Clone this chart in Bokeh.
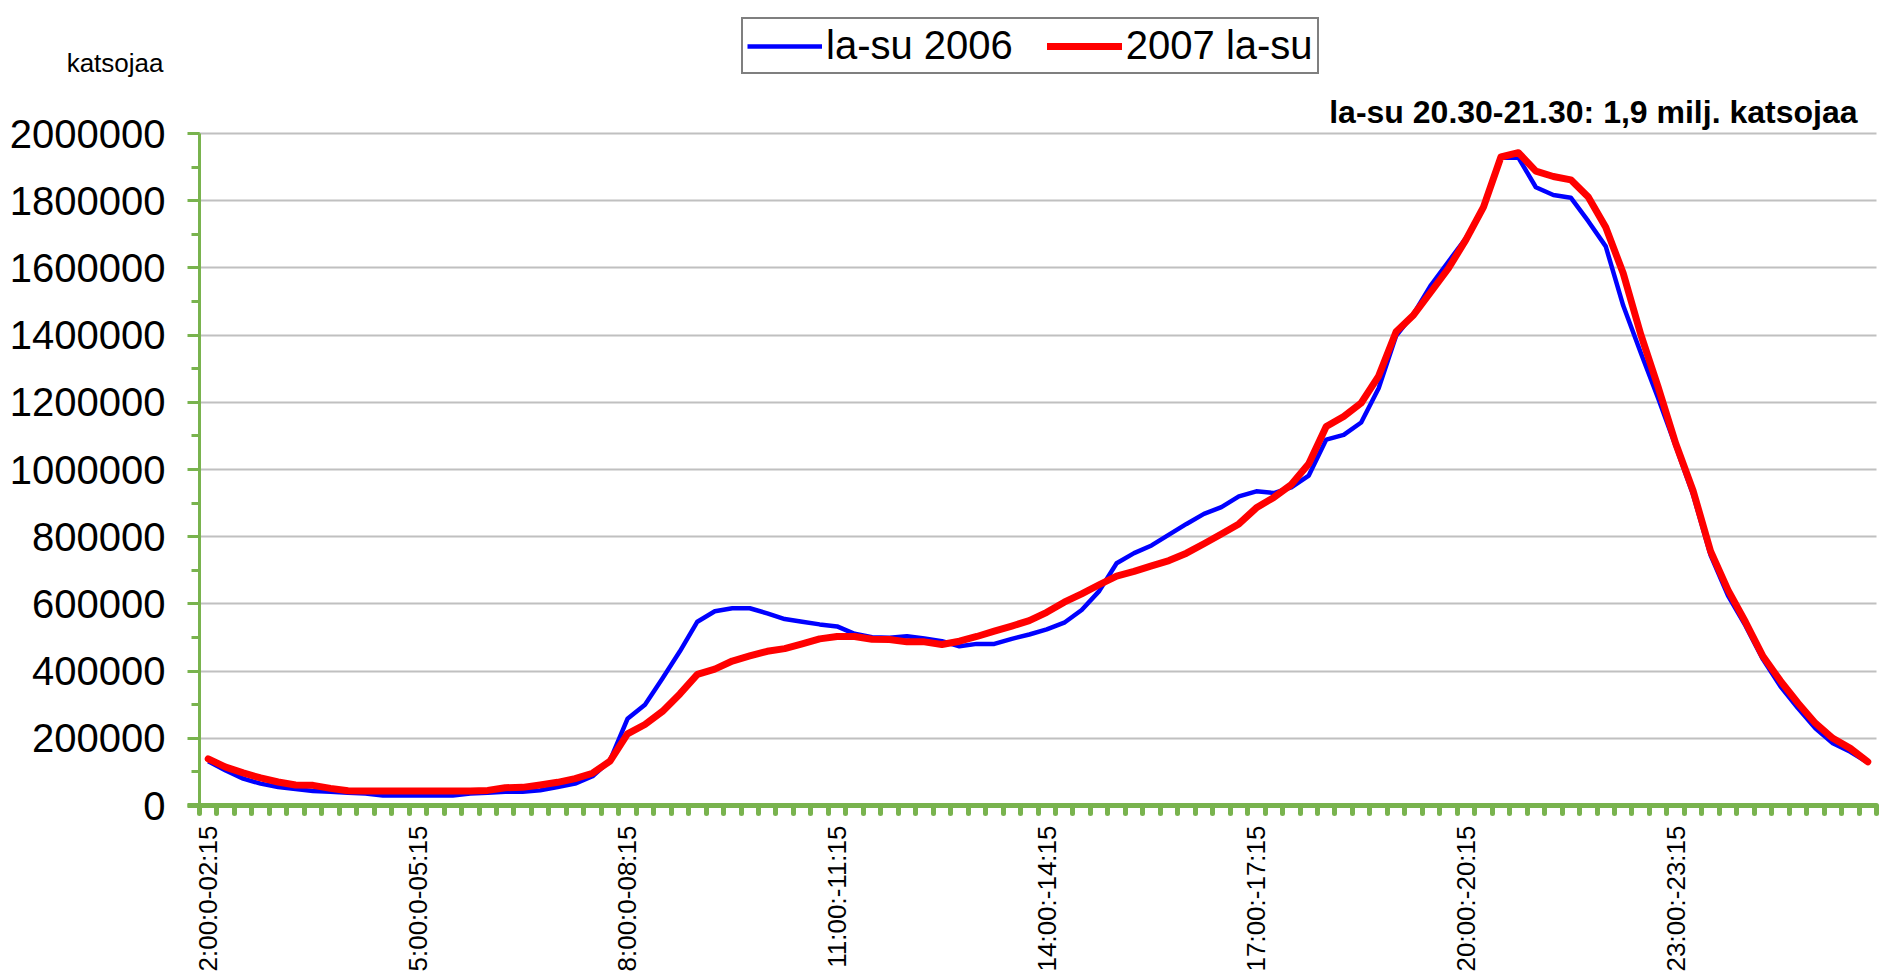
import math
from bokeh.plotting import figure
from bokeh.models import (Range1d, FixedTicker, LinearAxis, Legend, LegendItem, Label,
                          ColumnDataSource, NumeralTickFormatter, Grid)
from bokeh.embed import file_html
from bokeh.resources import INLINE

# ---- data (viewers per 15-minute slot, 02:00 -> 01:45 next day) ----
slot_index = list(range(96))

tick_slots = [0, 12, 24, 36, 48, 60, 72, 84]
tick_labels = ["2:00:0-02:15", "5:00:0-05:15", "8:00:0-08:15", "11:00:-11:15",
               "14:00:-14:15", "17:00:-17:15", "20:00:-20:15", "23:00:-23:15"]

series_2006 = [132000, 104000, 80000, 65000, 55000, 49000, 43000, 41000, 38000, 36000,
               30000, 30000, 30000, 30000, 30000, 36000, 38000, 41000, 41000, 45000,
               55000, 65000, 87000, 134000, 258000, 300000, 378000, 459000, 547000, 578000,
               587000, 587000, 572000, 555000, 547000, 539000, 533000, 511000, 501000, 499000,
               504000, 497000, 489000, 474000, 481000, 481000, 496000, 509000, 524000, 544000,
               582000, 638000, 721000, 751000, 774000, 806000, 838000, 868000, 888000, 920000,
               935000, 930000, 947000, 982000, 1089000, 1103000, 1140000, 1242000, 1398000, 1463000,
               1549000, 1619000, 1689000, 1777000, 1928000, 1928000, 1840000, 1817000, 1809000, 1739000,
               1664000, 1488000, 1348000, 1212000, 1070000, 925000, 745000, 625000, 535000, 435000,
               355000, 290000, 230000, 185000, 160000, 128000]

series_2007 = [139000, 114000, 97000, 82000, 70000, 61000, 60000, 51000, 44000, 43000,
               43000, 43000, 43000, 43000, 43000, 43000, 45000, 53000, 54000, 61000,
               69000, 80000, 96000, 132000, 213000, 241000, 280000, 332000, 390000, 406000,
               430000, 445000, 459000, 467000, 481000, 496000, 503000, 503000, 495000, 494000,
               487000, 487000, 479000, 489000, 503000, 519000, 534000, 550000, 575000, 605000,
               630000, 657000, 683000, 697000, 713000, 729000, 751000, 779000, 808000, 838000,
               886000, 917000, 955000, 1017000, 1128000, 1158000, 1198000, 1278000, 1410000, 1460000,
               1529000, 1599000, 1684000, 1781000, 1930000, 1943000, 1888000, 1872000, 1862000, 1811000,
               1721000, 1584000, 1403000, 1245000, 1078000, 937000, 757000, 641000, 546000, 444000,
               371000, 305000, 245000, 200000, 170000, 130000]

y_max = 2000000
y_ticks = list(range(0, y_max + 1, 200000))
y_minor = list(range(0, y_max + 1, 100000))

# ---- layout (pixels); the frame fills the whole canvas, axes sit at fixed locations ----
W, H = 1883, 975
PLOT_LEFT, PLOT_RIGHT = 199, 1876
PLOT_TOP, PLOT_BOTTOM = 133, 805
px_per_slot = (PLOT_RIGHT - PLOT_LEFT) / len(slot_index)
x0 = -0.5 - PLOT_LEFT / px_per_slot
x1 = x0 + W / px_per_slot
units_per_px = y_max / (PLOT_BOTTOM - PLOT_TOP)
y0 = -(H - PLOT_BOTTOM) * units_per_px
y1 = PLOT_BOTTOM * units_per_px

GREEN = "#79b34e"
FONT = "Liberation Sans"

src = ColumnDataSource(dict(x=slot_index, a=series_2006, b=series_2007))

p = figure(width=W, height=H, output_backend="svg", toolbar_location=None,
           x_range=Range1d(x0, x1), y_range=Range1d(y0, y1),
           x_axis_type=None, y_axis_type=None,
           min_border_left=0, min_border_right=0, min_border_top=0, min_border_bottom=0)
p.outline_line_color = None
p.background_fill_color = "white"
p.border_fill_color = "white"

ytick = FixedTicker(ticks=y_ticks, minor_ticks=y_minor)
p.add_layout(Grid(dimension=1, ticker=ytick, cross_bounds=(-0.5, 95.5),
                  grid_line_color="#c0c0c0", grid_line_width=2))

yaxis = LinearAxis(ticker=ytick, formatter=NumeralTickFormatter(format="0"),
                   fixed_location=-0.5, bounds=(0, y_max))
yaxis.axis_line_color = GREEN
yaxis.axis_line_width = 3
yaxis.major_tick_line_color = GREEN
yaxis.major_tick_line_width = 3
yaxis.major_tick_out = 12
yaxis.major_tick_in = 0
yaxis.minor_tick_line_color = GREEN
yaxis.minor_tick_line_width = 3
yaxis.minor_tick_out = 8
yaxis.minor_tick_in = 0
yaxis.major_label_standoff = 22
yaxis.major_label_text_font = FONT
yaxis.major_label_text_font_size = "40px"
yaxis.major_label_text_color = "black"
p.add_layout(yaxis, "left")

xtick = FixedTicker(ticks=tick_slots, minor_ticks=[i - 0.5 for i in range(97)])
xaxis = LinearAxis(ticker=xtick, bounds=(-1.2, 95.5), fixed_location=0,
                   major_label_overrides={t: l for t, l in zip(tick_slots, tick_labels)})
xaxis.axis_line_color = GREEN
xaxis.axis_line_width = 5
xaxis.major_tick_line_color = None
xaxis.major_tick_out = 0
xaxis.major_tick_in = 0
xaxis.minor_tick_line_color = GREEN
xaxis.minor_tick_line_width = 5
xaxis.minor_tick_line_cap = "round"
xaxis.minor_tick_out = 8
xaxis.minor_tick_in = 0
xaxis.major_label_orientation = math.pi / 2
xaxis.major_label_standoff = 12
xaxis.major_label_text_font = FONT
xaxis.major_label_text_font_size = "26px"
xaxis.major_label_text_color = "black"
p.add_layout(xaxis, "below")

r06 = p.line("x", "a", source=src, line_color="#0000ff", line_width=4.5, line_join="round")
r07 = p.line("x", "b", source=src, line_color="#ff0000", line_width=7, line_join="round",
             line_cap="round")

legend = Legend(items=[LegendItem(label="la-su 2006", renderers=[r06]),
                       LegendItem(label="2007 la-su", renderers=[r07])],
                orientation="horizontal", location=(741, H - 74),
                border_line_color="black", border_line_width=2,
                background_fill_color="white", background_fill_alpha=1,
                label_text_font=FONT, label_text_font_size="40px", label_text_color="black",
                glyph_width=75, glyph_height=30, label_standoff=4, spacing=34,
                padding=4, margin=0)
p.add_layout(legend)

p.add_layout(Label(x=1857, y=H - 111, x_units="screen", y_units="screen",
                   text="la-su 20.30-21.30: 1,9 milj. katsojaa",
                   text_align="right", text_baseline="alphabetic",
                   text_font=FONT, text_font_size="32px", text_font_style="bold",
                   text_color="black"))

p.add_layout(Label(x=163, y=H - 62, x_units="screen", y_units="screen",
                   text="katsojaa", text_align="right", text_baseline="alphabetic",
                   text_font=FONT, text_font_size="26px", text_color="black"))

open("out.html", "w").write(file_html(p, INLINE))
